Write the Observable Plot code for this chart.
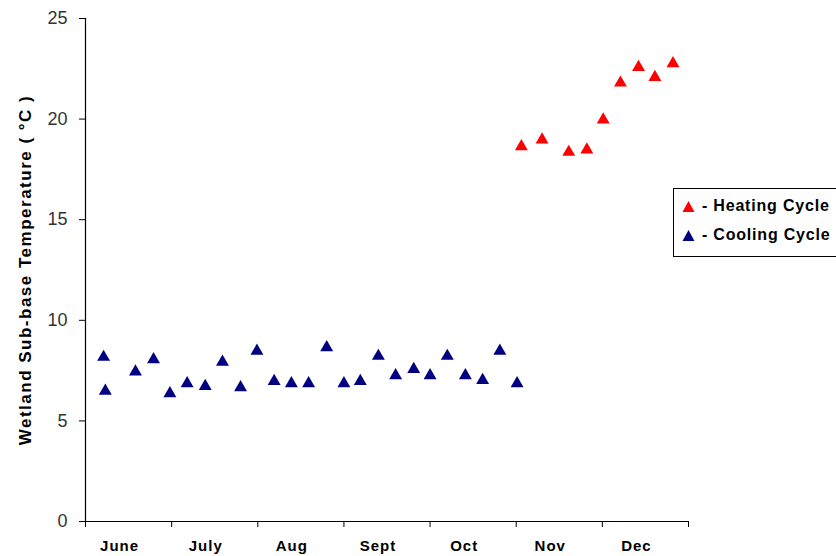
<!DOCTYPE html>
<html>
<head>
<meta charset="utf-8">
<script src="https://cdn.jsdelivr.net/npm/d3@7"></script>
<script src="https://cdn.jsdelivr.net/npm/@observablehq/plot@0.6"></script>
<style>
  html, body { margin: 0; padding: 0; background: #fff; }
  #wrap { position: relative; width: 836px; height: 556px; overflow: hidden; }
  #legend {
    position: absolute; left: 673px; top: 188px; width: 170px; height: 69px;
    border: 1px solid #000; background: #fff; box-sizing: border-box;
    font-family: "Liberation Sans", Arial, sans-serif; font-weight: bold; font-size: 16px;
    letter-spacing: 0.8px;
  }
  #legend .row { position: absolute; left: 8px; display: flex; align-items: center; white-space: nowrap; }
  #legend svg { margin-right: 7px; }
</style>
</head>
<body>
<div id="wrap"><div id="chart"></div><div id="legend"></div></div>
<script>
const months = ["June", "July", "Aug", "Sept", "Oct", "Nov", "Dec"];
const yTicks = [0, 5, 10, 15, 20, 25];
const yTitle = "Wetland Sub-base Temperature ( °C )";

// x in month units (0 = start of June, 7 = end of Dec)
const coolingX = [0.21, 0.23, 0.58, 0.79, 0.98, 1.18, 1.39, 1.59, 1.80, 1.99, 2.19, 2.39, 2.59,
                  2.80, 3.00, 3.19, 3.40, 3.60, 3.81, 4.00, 4.20, 4.41, 4.61, 4.81, 5.01];
const coolingY = [8.17, 6.49, 7.44, 8.05, 6.36, 6.86, 6.72, 7.93, 6.66, 8.47, 6.97, 6.86, 6.86,
                  8.65, 6.86, 6.97, 8.22, 7.26, 7.57, 7.26, 8.22, 7.26, 7.02, 8.47, 6.86];
const heatingX = [5.06, 5.30, 5.61, 5.82, 6.01, 6.21, 6.42, 6.61, 6.82];
const heatingY = [18.64, 18.97, 18.36, 18.48, 19.97, 21.80, 22.58, 22.08, 22.76];

const series = [
  {name: "- Heating Cycle", color: "#FF0000"},
  {name: "- Cooling Cycle", color: "#000080"}
];

const cooling = coolingX.map((x, i) => ({x, y: coolingY[i]}));
const heating = heatingX.map((x, i) => ({x, y: heatingY[i]}));

const font = "'Liberation Sans', Arial, sans-serif";

const chart = Plot.plot({
  width: 836,
  height: 556,
  marginLeft: 85,
  marginRight: 148,
  marginTop: 18,
  marginBottom: 35,
  style: {fontFamily: font, background: "#fff", color: "#000"},
  x: {domain: [0, 7]},
  y: {domain: [0, 25]},
  marks: [
    Plot.axisY({ticks: yTicks, tickSize: 6, tickPadding: 12, fontSize: 18, label: null, fill: "#333"}),
    Plot.axisX({ticks: d3.range(0, 8), tickSize: 6, tickFormat: () => "", label: null}),
    Plot.axisX({ticks: months.map((m, i) => i + 0.5), tickSize: 0, tickPadding: 19, dx: -9,
                tickFormat: (d) => months[Math.round(d - 0.5)], fontSize: 15, fontWeight: "bold",
                label: null}),
    Plot.ruleX([0], {stroke: "#000", strokeWidth: 1.2}),
    Plot.ruleY([0], {stroke: "#000", strokeWidth: 1.2}),
    Plot.text([yTitle], {frameAnchor: "left", textAnchor: "middle", rotate: -90, dx: -60,
                         fontSize: 17, fontWeight: "bold", fill: "#000"}),
    Plot.dot(cooling, {x: "x", y: "y", symbol: "triangle", r: 4.8, fill: series[1].color, stroke: "none"}),
    Plot.dot(heating, {x: "x", y: "y", symbol: "triangle", r: 4.8, fill: series[0].color, stroke: "none"})
  ]
});
chart.querySelectorAll("text").forEach((t) => {
  const s = t.textContent;
  if (s === yTitle) t.setAttribute("letter-spacing", "1.5");
  else if (months.includes(s)) t.setAttribute("letter-spacing", "1");
});
document.getElementById("chart").appendChild(chart);

const legend = document.getElementById("legend");
series.forEach((s, i) => {
  const row = document.createElement("div");
  row.className = "row";
  row.style.top = (8 + i * 29) + "px";
  row.innerHTML = `<svg width="13" height="13" viewBox="0 0 13 13"><polygon points="6.5,1 12.5,12 0.5,12" fill="${s.color}"/></svg><span>${s.name}</span>`;
  legend.appendChild(row);
});
</script>
</body>
</html>
